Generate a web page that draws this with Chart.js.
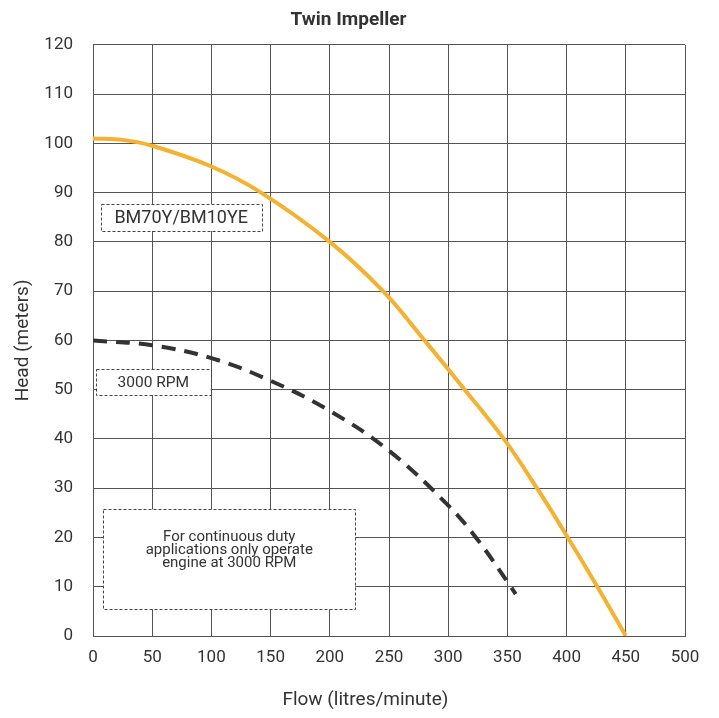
<!DOCTYPE html>
<html><head><meta charset="utf-8">
<script src="https://cdn.jsdelivr.net/npm/chart.js@4"></script>
<style>html,body{margin:0;padding:0;background:#fff}#wrap{width:719px;height:718px}</style>
</head><body><div id="wrap"><canvas id="c"></canvas></div>
<script>
const xTicks = [0,50,100,150,200,250,300,350,400,450,500];
const yTicks = [0,10,20,30,40,50,60,70,80,90,100,110,120];
const bmFlow = [0,25,50,100,142,200,245,280,314,347,375,401,426,450];
const bmHead = [101,100.7,99.5,95.3,90,80,70,60,50,40,30,20,10,0];
const rpmFlow = [0,50,100,150,200,250,300,325,350,357];
const rpmHead = [60,59,56.4,51.8,45.7,37.6,26.5,19.5,11,8.5];
const notes = [
  {lines:['BM70Y/BM10YE'], x0:6.5, x1:142.5, y0:87.7, y1:82.2, size:18},
  {lines:['3000 RPM'], x0:2.5, x1:99.4, y0:54.2, y1:48.9, size:15.5},
  {lines:['For continuous duty','applications only operate','engine at 3000 RPM'], x0:8.7, x1:221.5, y0:25.7, y1:5.4, size:15}
];
const notePlugin = {
  id:'notes',
  afterDatasetsDraw(chart){
    const {ctx, scales:{x,y}} = chart;
    ctx.save();
    notes.forEach(n=>{
      const l=x.getPixelForValue(n.x0), r=x.getPixelForValue(n.x1);
      const t=y.getPixelForValue(n.y0), b=y.getPixelForValue(n.y1);
      ctx.fillStyle='#fff';
      ctx.fillRect(l,t,r-l,b-t);
      ctx.setLineDash([3,2]);
      ctx.strokeStyle='#444';
      ctx.lineWidth=1;
      ctx.strokeRect(Math.round(l)+0.5,Math.round(t)+0.5,Math.round(r-l),Math.round(b-t));
      ctx.setLineDash([]);
      ctx.fillStyle='#333';
      ctx.font=n.size+'px Roboto';
      ctx.textAlign='center';
      ctx.textBaseline='middle';
      const lh = 13;
      const cx=(l+r)/2;
      const first = n.lines.length>1 ? t+28 : (t+b)/2+1;
      n.lines.forEach((s,i)=>ctx.fillText(s,cx,first+i*lh));
    });
    ctx.restore();
  }
};
const toPts=(xs,ys)=>xs.map((v,i)=>({x:v,y:ys[i]}));
new Chart(document.getElementById('c'),{
  type:'line',
  data:{datasets:[
    {label:'BM70Y/BM10YE',data:toPts(bmFlow,bmHead),borderColor:'#F5B130',borderWidth:4,pointRadius:0,tension:0.4,fill:false},
    {label:'3000 RPM',data:toPts(rpmFlow,rpmHead),borderColor:'#333',borderWidth:4,borderDash:[14,9],pointRadius:0,tension:0.4,fill:false}
  ]},
  options:{
    responsive:true,maintainAspectRatio:false,animation:false,
    layout:{padding:{left:12,right:34,top:4,bottom:6}},
    plugins:{
      legend:{display:false},tooltip:{enabled:false},
      title:{display:true,text:'Twin Impeller',color:'#333',font:{family:'Roboto',size:19,weight:'bold'},padding:{top:5,bottom:13}}
    },
    scales:{
      x:{type:'linear',min:0,max:500,
        afterBuildTicks:s=>{s.ticks=xTicks.map(v=>({value:v}));},
        afterFit:s=>{s.height=76;},
        grid:{color:'#555',lineWidth:1,drawTicks:false},
        border:{color:'#555'},
        ticks:{color:'#333',padding:12,font:{family:'Roboto',size:17},maxRotation:0},
        title:{display:true,text:'Flow (litres/minute)'+'\u00A0'.repeat(10),color:'#333',font:{family:'Roboto',size:19},padding:{top:0,bottom:0}}
      },
      y:{type:'linear',min:0,max:120,
        afterBuildTicks:s=>{s.ticks=yTicks.map(v=>({value:v}));},
        afterFit:s=>{s.width=81;},
        grid:{color:'#555',lineWidth:1,drawTicks:false},
        border:{color:'#555'},
        ticks:{color:'#333',padding:20,font:{family:'Roboto',size:17}},
        title:{display:true,text:'Head (meters)',color:'#333',font:{family:'Roboto',size:19},padding:{top:0,bottom:0}}
      }
    }
  },
  plugins:[notePlugin]
});
</script></body></html>
